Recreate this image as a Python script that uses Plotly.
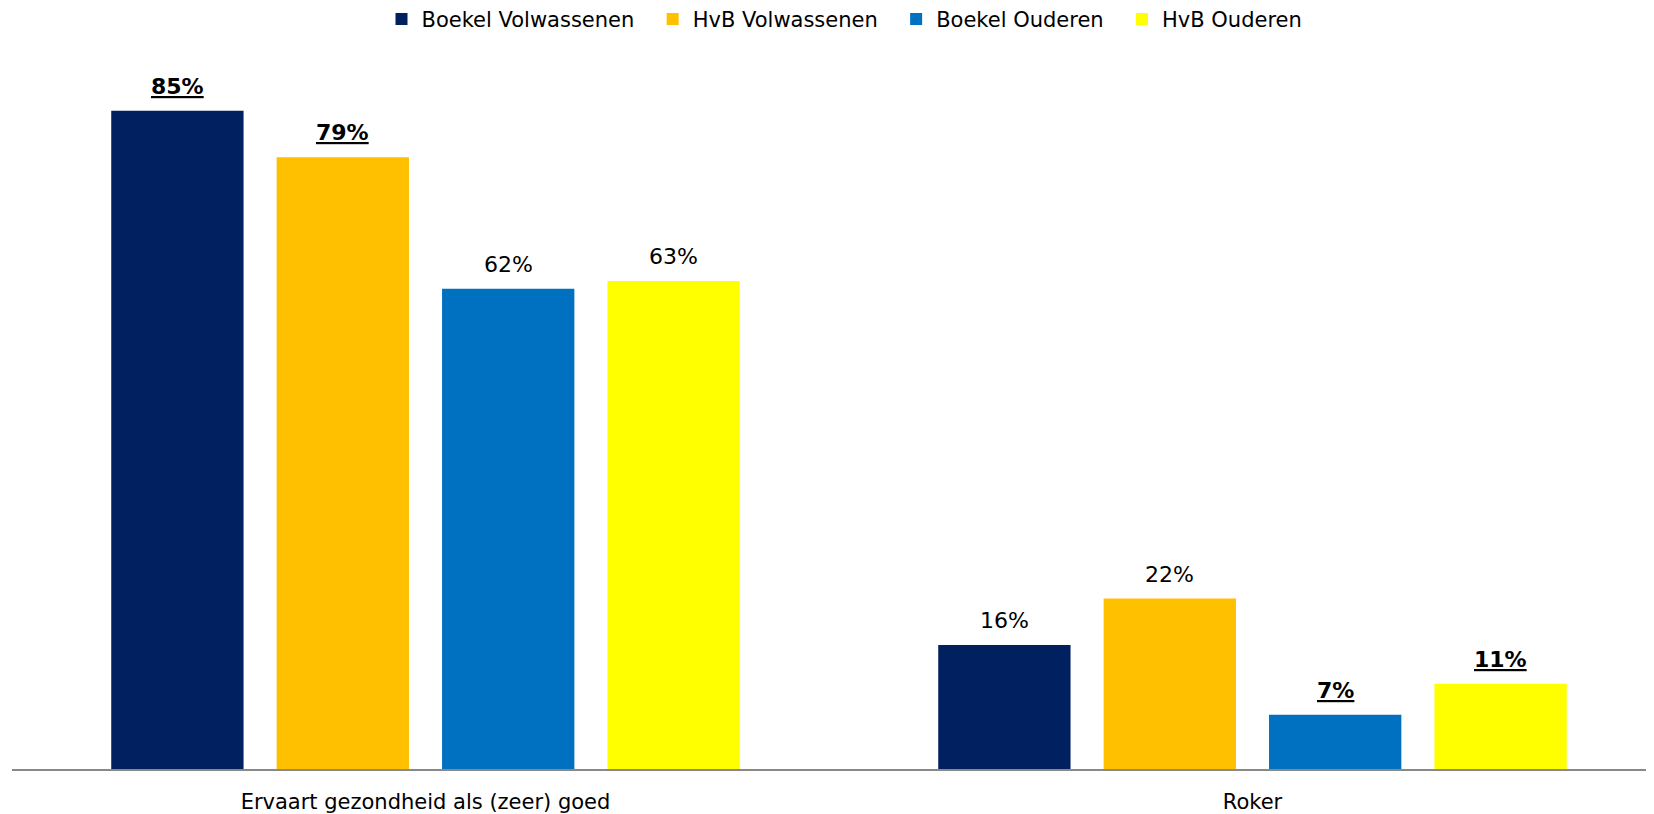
import plotly.graph_objects as go

categories = ["Ervaart gezondheid als (zeer) goed", "Roker"]
series_names = ["Boekel Volwassenen", "HvB Volwassenen", "Boekel Ouderen", "HvB Ouderen"]
boekel_volw = [0.85, 0.16]
hvb_volw = [0.79, 0.22]
boekel_oud = [0.62, 0.07]
hvb_oud = [0.63, 0.11]
# labels shown bold + underlined
boekel_volw_sig = [True, False]
hvb_volw_sig = [True, False]
boekel_oud_sig = [False, True]
hvb_oud_sig = [False, True]

colors = ["#002060", "#FFC000", "#0070C0", "#FFFF00"]
values = [boekel_volw, hvb_volw, boekel_oud, hvb_oud]
sigs = [boekel_volw_sig, hvb_volw_sig, boekel_oud_sig, hvb_oud_sig]

FONT = "DejaVu Sans"
BARGAP = 0.2
GROUPGAP = 0.2


def label(v, sig):
    txt = f"{round(v * 100)}%"
    if sig:
        return f"<b><span style='text-decoration:underline'>{txt}</span></b>"
    return txt


fig = go.Figure()
n = len(series_names)
slot = (1 - BARGAP) / n
for i, (name, vals, sg, col) in enumerate(zip(series_names, values, sigs, colors)):
    # a little extra room after each legend entry, like the excel legend
    legend_name = name + ("\u00a0\u00a0" if i < n - 1 else "")
    fig.add_trace(go.Bar(
        x=categories, y=vals, name=legend_name,
        marker=dict(color=col, line=dict(width=0)),
    ))
    # value labels above each bar, placed in the bar's slot of the group
    off = -(1 - BARGAP) / 2 + slot * (i + 0.5)
    for j, (v, s) in enumerate(zip(vals, sg)):
        fig.add_annotation(x=j + off, y=v, xref="x", yref="y",
                           text=label(v, s), showarrow=False,
                           yanchor="bottom", yshift=10,
                           font=dict(size=22, color="#000000", family=FONT))

fig.update_layout(
    width=1646, height=806,
    margin=dict(l=4, r=0, t=64, b=45),
    plot_bgcolor="white", paper_bgcolor="white",
    barmode="group", bargap=BARGAP, bargroupgap=GROUPGAP,
    font=dict(family=FONT, size=21, color="#000000"),
    legend=dict(orientation="h", x=0.507, xanchor="center", y=0.986, yref="container",
                yanchor="middle", font=dict(size=21), itemwidth=30,
                traceorder="normal"),
    showlegend=True,
)
fig.update_xaxes(showline=True, linecolor="#898989", linewidth=2, showgrid=False,
                 range=[-0.5, 1.4855],
                 ticks="outside", ticklen=13, tickcolor="rgba(0,0,0,0)",
                 tickfont=dict(size=21))
fig.update_yaxes(range=[0, 0.9], visible=False, showgrid=False)

fig.write_html("out.html")
